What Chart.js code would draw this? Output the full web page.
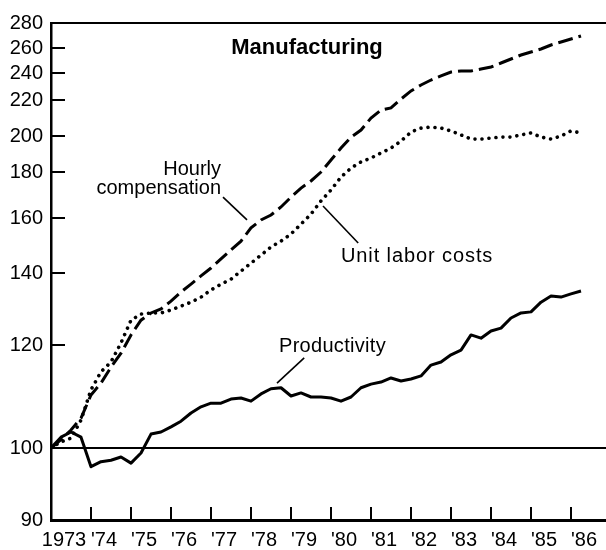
<!DOCTYPE html>
<html><head><meta charset="utf-8">
<script src="https://cdn.jsdelivr.net/npm/chart.js@4/dist/chart.umd.min.js"></script>
<style>html,body{margin:0;padding:0;background:#fff}#wrap{width:606px;height:550px}</style>
</head><body><div id="wrap"><canvas id="c" width="606" height="550"></canvas></div>
<script>
// ---- data ----
const chartTitle = 'Manufacturing';
const years = [1973,1974,1975,1976,1977,1978,1979,1980,1981,1982,1983,1984,1985,1986];
const yearLabels = ['1973',"'74","'75","'76","'77","'78","'79","'80","'81","'82","'83","'84","'85","'86"];
const yTickValues = [90,100,120,140,160,180,200,220,240,260,280];
const seriesNames = ['Hourly compensation','Unit labor costs','Productivity'];
// quarterly index values, 1973 I .. 1986 II (1973 I = 100)
const hourlyCompensation = [100,101.6,103.5,105.8,110.3,112.6,115.7,118.4,122.8,126.9,128.9,130.0,
  132.2,134.7,136.9,139.2,141.8,145.1,148.4,151.6,156.4,159.3,161.3,164.8,169.1,173.0,176.1,180.0,
  186.7,193.3,199.4,203.3,210.0,214.4,215.6,220.7,226.7,231.1,234.8,237.8,240.8,241.6,241.6,243.2,
  244.8,248.0,251.2,254.4,256.8,259.2,262.4,264.8,267.2,269.6];
const unitLaborCosts = [100,101.2,101.9,105.4,111.3,114.8,116.7,120.6,126.9,128.6,128.9,128.9,
  129.7,130.8,131.9,133.3,135.3,136.9,138.3,140.7,143.6,146.5,149.5,151.6,154.2,157.8,161.7,167.4,
  172.2,177.8,182.2,185.6,187.8,190.6,193.3,197.2,202.2,204.4,205.0,204.4,202.8,200.6,198.3,198.3,
  198.9,199.4,199.4,200.6,201.7,199.4,198.3,200.0,202.8,201.7];
const productivity = [100,102.1,103.1,102.1,97.4,98.1,98.3,98.75,97.9,99.3,102.7,103.1,
  104.1,105.2,106.8,108.0,108.7,108.7,109.5,109.7,109.1,110.5,111.5,111.7,110.1,110.7,109.9,109.9,
  109.7,109.1,109.9,111.7,112.4,112.8,113.6,113.0,113.4,114.0,116.1,116.7,118.1,119.0,122.8,121.9,
  123.9,124.7,127.5,128.9,129.2,131.9,133.6,133.3,134.2,135.0];

// quarter categories -> x positions (year + quarter offset)
const quarterX = [];
years.forEach(y => { for (let q = 0; q < 4; q++) quarterX.push(y + q / 4); });
const toPts = arr => arr.map((v, i) => ({ x: quarterX[i], y: v }));

// ---- custom non-uniform (ratio-like) y scale drawn as on the original ----
const warpFrac = [0, .1449, .3521, .4970, .6076, .7002, .7726, .8451, .8994, .9497, 1];
class WarpScale extends Chart.LinearScale {
  buildTicks() { return yTickValues.map(v => ({ value: v })); }
  _frac(v) {
    const t = yTickValues, f = warpFrac, n = t.length - 1;
    if (v <= t[0]) return f[0] + (v - t[0]) * (f[1] - f[0]) / (t[1] - t[0]);
    for (let i = 1; i <= n; i++) if (v <= t[i]) return f[i-1] + (v - t[i-1]) / (t[i] - t[i-1]) * (f[i] - f[i-1]);
    return f[n] + (v - t[n]) * (f[n] - f[n-1]) / (t[n] - t[n-1]);
  }
  getPixelForValue(v) {
    if (v === null || v === undefined || isNaN(v)) return NaN;
    return this.getPixelForDecimal(this._frac(+v));
  }
  getValueForPixel(p) {
    const d = this.getDecimalForPixel(p), t = yTickValues, f = warpFrac;
    for (let i = 1; i < t.length; i++) if (d <= f[i]) return t[i-1] + (d - f[i-1]) / (f[i] - f[i-1]) * (t[i] - t[i-1]);
    return t[t.length - 1];
  }
}
WarpScale.id = 'warp';
WarpScale.defaults = Chart.LinearScale.defaults;
Chart.register(WarpScale);

const FONT = "'Liberation Sans', Arial, Helvetica, sans-serif";
Chart.defaults.font.family = FONT;
Chart.defaults.font.size = 20;
Chart.defaults.color = '#000';

const notes = [
  { text: chartTitle, x: 1979.4, y: 255.2, align: 'center', bold: true, size: 22 },
  { text: 'Hourly', x: 1977.25, y: 178.7, align: 'right' },
  { text: 'compensation', x: 1977.25, y: 170.4, align: 'right' },
  { text: 'Unit labor costs', x: 1980.25, y: 144.0, align: 'left', spacing: '0.9px' },
  { text: 'Productivity', x: 1978.7, y: 118.6, align: 'left', spacing: '0.3px' }
];
const leaders = [
  [1977.3, 169.1, 1977.9, 159.3],
  [1979.8, 165.2, 1980.68, 150.9],
  [1979.33, 117.5, 1978.65, 112.6]
];

const deco = {
  id: 'deco',
  beforeDatasetsDraw(chart) {
    const { ctx, chartArea: a, scales: { x, y } } = chart;
    ctx.save();
    ctx.strokeStyle = '#000';
    ctx.lineWidth = 2;
    const seg = (x1, y1, x2, y2) => { ctx.beginPath(); ctx.moveTo(x1, y1); ctx.lineTo(x2, y2); ctx.stroke(); };
    // reference line at 100 and top rule at 280
    seg(a.left, y.getPixelForValue(100), a.right, y.getPixelForValue(100));
    seg(a.left, y.getPixelForValue(280), a.right, y.getPixelForValue(280));
    // inward ticks
    yTickValues.forEach(v => { if (v === 90) return; const py = y.getPixelForValue(v); seg(a.left, py, a.left + 14, py); });
    years.forEach(yr => { if (yr === years[0]) return; const px = x.getPixelForValue(yr); seg(px, a.bottom, px, a.bottom - 13); });
    ctx.restore();
  },
  afterDraw(chart) {
    const { ctx, scales: { x, y } } = chart;
    ctx.save();
    ctx.fillStyle = '#000';
    ctx.strokeStyle = '#000';
    ctx.textBaseline = 'alphabetic';
    notes.forEach(n => {
      ctx.font = (n.bold ? 'bold ' : '') + (n.size || 20) + 'px ' + FONT;
      ctx.textAlign = n.align;
      ctx.letterSpacing = n.spacing || '0px';
      ctx.fillText(n.text, x.getPixelForValue(n.x), y.getPixelForValue(n.y));
    });
    ctx.letterSpacing = '0px';
    ctx.lineWidth = 1.6;
    leaders.forEach(l => {
      ctx.beginPath();
      ctx.moveTo(x.getPixelForValue(l[0]), y.getPixelForValue(l[1]));
      ctx.lineTo(x.getPixelForValue(l[2]), y.getPixelForValue(l[3]));
      ctx.stroke();
    });
    ctx.restore();
  }
};

new Chart(document.getElementById('c'), {
  type: 'line',
  data: {
    datasets: [
      { label: seriesNames[0], data: toPts(hourlyCompensation), borderColor: '#000', borderWidth: 3,
        borderDash: [15, 6], pointRadius: 0, tension: 0, fill: false },
      { label: seriesNames[1], data: toPts(unitLaborCosts), borderColor: '#000', borderWidth: 3.6,
        borderDash: [0.01, 7], borderCapStyle: 'round', pointRadius: 0, tension: 0, fill: false },
      { label: seriesNames[2], data: toPts(productivity), borderColor: '#000', borderWidth: 3,
        borderJoinStyle: 'round', pointRadius: 0, tension: 0, fill: false }
    ]
  },
  options: {
    responsive: false,
    animation: false,
    devicePixelRatio: 1,
    layout: { padding: { top: 23, left: 0, right: 0, bottom: 0 }, autoPadding: false },
    plugins: { legend: { display: false }, tooltip: { enabled: false }, title: { display: false } },
    scales: {
      x: {
        type: 'linear', min: 1973, max: 1986.875,
        afterBuildTicks: s => { s.ticks = years.map(v => ({ value: v })); },
        afterFit: s => { s.height = 30; },
        grid: { display: false, drawTicks: false },
        border: { display: true, color: '#000', width: 3 },
        ticks: { autoSkip: false, maxRotation: 0, minRotation: 0, padding: 8, labelOffset: 13,
          color: '#000', font: { size: 20 },
          callback: (v, i) => yearLabels[i] }
      },
      y: {
        type: 'warp', min: 90, max: 280,
        afterFit: s => { s.width = 51; },
        grid: { display: false, drawTicks: false },
        border: { display: true, color: '#000', width: 2.5 },
        ticks: { autoSkip: false, padding: 8, color: '#000', font: { size: 20 } }
      }
    }
  },
  plugins: [deco]
});
</script>
</body></html>
